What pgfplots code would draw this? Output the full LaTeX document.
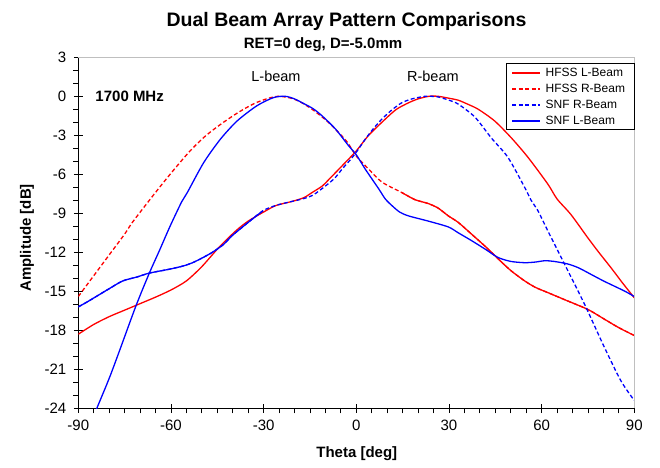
\documentclass[border=0pt]{standalone}
\usepackage{fontspec}
\setmainfont{Liberation Sans}
\usepackage{pgfplots}
\pgfplotsset{compat=1.18}
\begin{document}
\begin{tikzpicture}
\begin{axis}[
  scale only axis,
  width=556bp, height=351bp,
  xmin=-90, xmax=90, ymin=-24, ymax=3,
  xtick={-90,-60,...,90}, ytick={-24,-21,...,3},
  minor x tick num=5, minor y tick num=2,
  axis x line*=bottom, axis y line*=left,
  axis line style={-, line width=1.1bp, black},
  tick align=center,
  major tick length=9bp, minor tick length=5bp,
  every tick/.style={black, line width=0.9bp},
  minor x tick style={yshift=-2.5bp},
  minor y tick style={xshift=-2.5bp},
  /pgf/number format/assume math mode=true,
  tick label style={font=\fontsize{15bp}{18bp}\selectfont},
  xticklabel style={yshift=-4bp},
  yticklabel style={xshift=-4bp},
  every axis plot/.append style={line width=1.3bp, smooth, tension=0.45},
]
% HFSS L-Beam (solid red)
\addplot[color=red, solid] coordinates {
(-90,-18.3) (-85,-17.55) (-80,-16.95) (-75,-16.45) (-70,-15.95) (-65,-15.45) (-60,-14.9)
(-55,-14.2) (-50,-13.1) (-44.4,-11.6) (-39,-10.35) (-35,-9.6) (-30,-8.9) (-26,-8.4)
(-21,-8.1) (-17,-7.8) (-14.3,-7.4) (-11,-6.9) (-8.9,-6.4) (-4.6,-5.35) (0,-4.2) (4,-3.0)
(9.4,-1.75) (13,-1.0) (16.9,-0.5) (20,-0.2) (23.5,0) (26.5,0) (30,-0.15) (33,-0.3)
(36,-0.6) (39.5,-1.0) (44.8,-1.9) (50.2,-3.2) (55.6,-4.7) (62,-6.75) (65,-7.9)
(69.5,-9.1) (75,-10.9) (78.5,-12.0) (82.5,-13.2) (86,-14.3) (90,-15.5)};
% HFSS R-Beam (dashed red)
\addplot[color=red, dash pattern=on 4bp off 2.5bp] coordinates {
(-90,-15.4) (-85,-13.8) (-80,-12.2) (-75,-10.6) (-72.5,-9.7) (-67,-8.0) (-62,-6.5)
(-58,-5.35) (-54,-4.25) (-50,-3.3) (-47,-2.7) (-43,-2.0) (-38.6,-1.3) (-35,-0.8) (-32,-0.45)
(-28,-0.12) (-25,0) (-21,-0.15) (-18,-0.45) (-14.3,-1.0) (-10,-1.8) (-6.9,-2.5)
(-3,-3.5) (0,-4.6) (4,-5.6) (8.3,-6.6) (14.7,-7.4) (19,-7.95) (23.3,-8.25) (26.5,-8.6)
(29.8,-9.2) (33,-9.7) (37.3,-10.6) (42,-11.6) (45.9,-12.5) (50,-13.4) (54.5,-14.2)
(58,-14.7) (62,-15.1) (68,-15.7) (75,-16.4) (80,-17.1) (85,-17.8) (90,-18.4)};
\addplot[color=red, solid] coordinates {
(14.7,-7.4) (19,-7.95) (23.3,-8.25) (26.5,-8.6)
(29.8,-9.2) (33,-9.7) (37.3,-10.6) (42,-11.6) (45.9,-12.5) (50,-13.4) (54.5,-14.2)
(58,-14.7) (62,-15.1) (68,-15.7) (75,-16.4) (80,-17.1) (85,-17.8) (90,-18.4)};
% SNF R-Beam (dashed blue)
\addplot[color=blue, dash pattern=on 4bp off 2.5bp] coordinates {
(-90,-16.2) (-87,-15.8) (-84.2,-15.4) (-80,-14.8) (-75.6,-14.2) (-71,-13.9) (-67,-13.6)
(-60.5,-13.3) (-56,-13.05) (-53,-12.8) (-50,-12.45) (-46.6,-12.0) (-43,-11.4)
(-40.1,-10.7) (-35,-9.7) (-30.2,-8.8) (-26.1,-8.4) (-22,-8.15) (-17.5,-7.9) (-14,-7.6)
(-10,-6.9) (-7,-6.3) (-4.6,-5.6) (-2,-4.9) (0,-4.3) (2.9,-3.3) (5.5,-2.5) (8.3,-1.75)
(11.5,-1.05) (14.7,-0.5) (18,-0.2) (22.2,0) (24,0) (26.5,-0.05) (30,-0.3) (33,-0.6)
(38.4,-1.6) (43.7,-3.2) (49.1,-4.7) (54.5,-7.0) (56.6,-8.0) (58.8,-8.8) (62,-10.35)
(67.4,-12.9) (73.9,-16.0) (80.3,-19.3) (85.7,-21.9) (90,-23.4)};
\addplot[color=blue, solid] coordinates {
(-90,-16.2) (-87,-15.8) (-84.2,-15.4) (-80,-14.8) (-75.6,-14.2) (-71,-13.9) (-67,-13.6)
(-60.5,-13.3) (-56,-13.05) (-53,-12.8) (-50,-12.45) (-46.6,-12.0) (-43,-11.4)
(-40.1,-10.7) (-35,-9.7) (-30.2,-8.8)};
% SNF L-Beam (solid blue)
\addplot[color=blue, solid] coordinates {
(-85,-24.6) (-84,-24.0) (-80,-21.7) (-76.7,-19.6) (-71.3,-16.1) (-67,-13.6) (-63.8,-11.9)
(-60.3,-10.0) (-56.5,-8.1) (-54.7,-7.4) (-49.4,-5.1) (-44,-3.3) (-38.6,-1.9)
(-32.2,-0.73) (-26.8,-0.1) (-23,0) (-20,-0.2) (-17.5,-0.5) (-14,-0.95) (-11.1,-1.5)
(-6.8,-2.5) (-2.5,-3.8) (0,-4.5) (2.9,-5.6) (7.2,-7.1) (9.4,-7.9) (11.5,-8.4) (14,-8.9)
(16.9,-9.2) (23.3,-9.6) (29.8,-10.05) (33,-10.5) (37.3,-11.1) (42,-11.8) (45.9,-12.4)
(50,-12.7) (54.5,-12.8) (58,-12.75) (61,-12.65) (64,-12.7) (68.5,-12.9) (72,-13.2)
(76,-13.7) (80,-14.2) (83.5,-14.6) (87,-15.0) (90,-15.4)};
\node[font=\fontsize{14.5bp}{17bp}\selectfont] at (axis cs:-26,1.5) {L-beam};
\node[font=\fontsize{14.5bp}{17bp}\selectfont] at (axis cs:24.8,1.5) {R-beam};
\node[anchor=west, font=\bfseries\fontsize{15bp}{18bp}\selectfont, inner sep=0pt] at (axis cs:-84.5,0) {1700 MHz};
\end{axis}
\draw[black!25, line width=1.2bp] (current axis.north west) -- (current axis.north east) -- (current axis.south east);
% legend (page coordinates: origin at page top-left)
\begin{scope}[shift={([xshift=-78.3bp, yshift=408.3bp]current axis.south west)}]
  \draw[black, line width=0.8bp, fill=white] (506.7bp,-63bp) rectangle (634bp,-129bp);
  \draw[red, line width=2bp] (512bp,-73bp) -- (540bp,-73bp);
  \draw[red, line width=2bp, dash pattern=on 4bp off 2.5bp] (512bp,-89bp) -- (540bp,-89bp);
  \draw[blue, line width=2bp, dash pattern=on 4bp off 2.5bp] (512bp,-105bp) -- (540bp,-105bp);
  \draw[blue, line width=2bp] (512bp,-121bp) -- (540bp,-121bp);
  \begin{scope}[every node/.style={anchor=west, inner sep=0pt, font=\fontsize{12bp}{14bp}\selectfont}]
    \node at (545.5bp,-72.5bp) {HFSS L-Beam};
    \node at (545.5bp,-88.5bp) {HFSS R-Beam};
    \node at (545.5bp,-104.5bp) {SNF R-Beam};
    \node at (545.5bp,-120.5bp) {SNF L-Beam};
  \end{scope}
\end{scope}
\node[anchor=base, font=\bfseries\fontsize{19.5bp}{23bp}\selectfont, inner sep=0pt]
  at ([xshift=268.2bp, yshift=31bp]current axis.north west) {Dual Beam Array Pattern Comparisons};
\node[anchor=base, font=\bfseries\fontsize{15bp}{18bp}\selectfont, inner sep=0pt]
  at ([xshift=244.7bp, yshift=8.5bp]current axis.north west) {RET=0 deg, D=-5.0mm};
\node[anchor=base, font=\bfseries\fontsize{15bp}{18bp}\selectfont, inner sep=0pt]
  at ([xshift=0.5bp, yshift=-48.7bp]current axis.south) {Theta [deg]};
\node[anchor=base, rotate=90, font=\bfseries\fontsize{15bp}{18bp}\selectfont, inner sep=0pt]
  at ([xshift=-47.5bp, yshift=-5bp]current axis.west) {Amplitude [dB]};
\pgfresetboundingbox
\path[use as bounding box] ([xshift=-78.3bp, yshift=-59.7bp]current axis.south west) rectangle ++(660bp,468bp);
\end{tikzpicture}
\end{document}
